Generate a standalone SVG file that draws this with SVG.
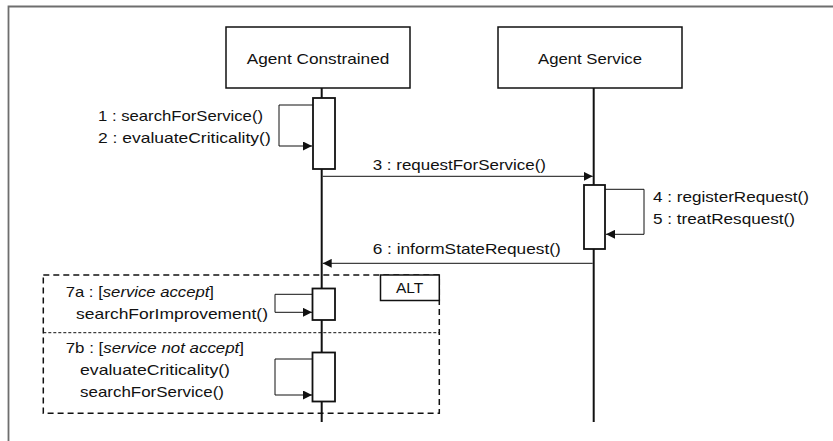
<svg xmlns="http://www.w3.org/2000/svg" width="833" height="441" viewBox="0 0 833 441">
<style>
text{font-family:"Liberation Sans",Arial,sans-serif;font-size:15px;fill:#111}
.box{fill:#fff;stroke:#111;stroke-width:1.5}
.life{stroke:#111;stroke-width:2;fill:none}
.act{fill:#fff;stroke:#111;stroke-width:1.8}
.msg{stroke:#111;stroke-width:1;fill:none}
.dash{fill:none;stroke:#111;stroke-width:1.5;stroke-dasharray:6 4}
.div{fill:none;stroke:#111;stroke-width:1;stroke-dasharray:3 2}
</style>
<defs>
<marker id="ah" viewBox="0 0 10 10" refX="10" refY="5" markerWidth="9" markerHeight="9" markerUnits="userSpaceOnUse" orient="auto">
<path d="M0,0 L10,5 L0,10 Z" fill="#111"/>
</marker>
</defs>
<rect width="833" height="441" fill="#fff"/>
<path d="M8.5,441 V6.5 H833" fill="none" stroke="#6e6e6e" stroke-width="1.8"/>

<g id="lifelines">
<line class="life" x1="321.7" y1="88" x2="321.7" y2="422"/>
<line class="life" x1="593.7" y1="88" x2="593.7" y2="422"/>
</g>

<g id="agent-constrained">
<rect class="box" x="226" y="27" width="184" height="61"/>
<text x="246.7" y="64" textLength="142.6" lengthAdjust="spacingAndGlyphs">Agent Constrained</text>
</g>
<g id="agent-service">
<rect class="box" x="498" y="27" width="184" height="61"/>
<text x="538" y="64" textLength="104" lengthAdjust="spacingAndGlyphs">Agent Service</text>
</g>

<g id="alt-frame">
<rect class="dash" x="43.3" y="275" width="396" height="138.3"/>
<line class="div" x1="43.3" y1="332.7" x2="439.3" y2="332.7"/>
<rect class="box" x="380.5" y="275" width="58.8" height="25.5"/>
<text x="396" y="292.5" textLength="27.3" lengthAdjust="spacingAndGlyphs">ALT</text>
</g>

<g id="activations">
<rect class="act" x="313" y="98" width="22" height="71"/>
<rect class="act" x="584" y="185" width="21" height="64"/>
<rect class="act" x="312.5" y="288.5" width="22.5" height="31.5"/>
<rect class="act" x="312.5" y="352.5" width="22.5" height="49"/>
</g>

<g id="connectors">
<path class="msg" d="M313,105 H279 V146 H312" marker-end="url(#ah)"/>
<path class="msg" d="M322.7,176.3 H592.7" marker-end="url(#ah)"/>
<path class="msg" d="M605,189.3 H644 V234.3 H606" marker-end="url(#ah)"/>
<path class="msg" d="M592.7,263.3 H322.7" marker-end="url(#ah)"/>
<path class="msg" d="M312.5,294.3 H275 V312.3 H312" marker-end="url(#ah)"/>
<path class="msg" d="M312.5,359 H275 V395 H312" marker-end="url(#ah)"/>
</g>

<g id="labels">
<text x="98" y="120.5" textLength="165" lengthAdjust="spacingAndGlyphs">1 : searchForService()</text>
<text x="98" y="142.5" textLength="172.7" lengthAdjust="spacingAndGlyphs">2 : evaluateCriticality()</text>
<text x="372.7" y="170" textLength="173.3" lengthAdjust="spacingAndGlyphs">3 : requestForService()</text>
<text x="653" y="202" textLength="156" lengthAdjust="spacingAndGlyphs">4 : registerRequest()</text>
<text x="653" y="224" textLength="142" lengthAdjust="spacingAndGlyphs">5 : treatResquest()</text>
<text x="372.7" y="253.5" textLength="188" lengthAdjust="spacingAndGlyphs">6 : informStateRequest()</text>
<text x="65.7" y="297" textLength="148.3" lengthAdjust="spacingAndGlyphs">7a : [<tspan font-style="italic">service accept</tspan>]</text>
<text x="76" y="318.5" textLength="192" lengthAdjust="spacingAndGlyphs">searchForImprovement()</text>
<text x="65.7" y="352.5" textLength="178.3" lengthAdjust="spacingAndGlyphs">7b : [<tspan font-style="italic">service not accept</tspan>]</text>
<text x="80" y="375" textLength="150" lengthAdjust="spacingAndGlyphs">evaluateCriticality()</text>
<text x="80" y="397" textLength="144" lengthAdjust="spacingAndGlyphs">searchForService()</text>
</g>
</svg>
